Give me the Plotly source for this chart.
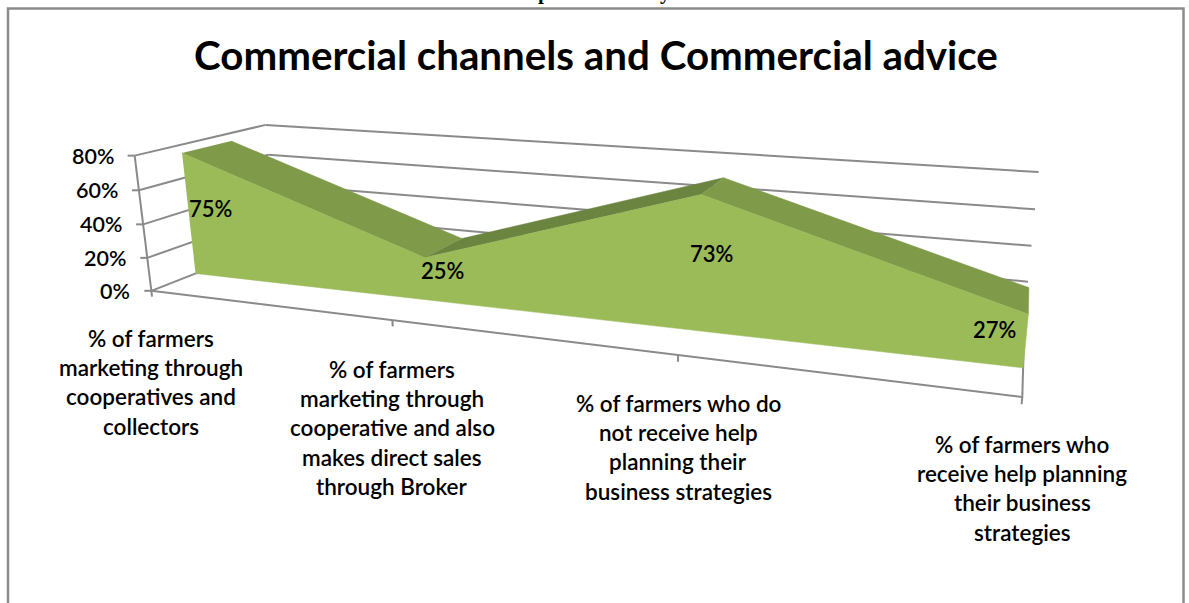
import numpy as np
import plotly.graph_objects as go

# Chart content
title_text = "Commercial channels and Commercial advice"
categories = [
    ["% of farmers", "marketing through", "cooperatives and", "collectors"],
    ["% of farmers", "marketing through", "cooperative and also", "makes direct sales", "through Broker"],
    ["% of farmers who do", "not receive help", "planning their", "business strategies"],
    ["% of farmers who", "receive help planning", "their business", "strategies"],
]
values = [75, 25, 73, 27]
value_ticks = [0, 20, 40, 60, 80]

# Camera for the oblique 3-D view: (category, depth, value) -> canvas pixel
CAMERA = np.array([
    [210.31351464835774, 170.26709185750195, -0.26407381665906404, 151.33778417951913],
    [4.328042134755781, -9.185382359520482, -1.7537967448062575, 290.8124138644101],
    [-0.07826303614262967, 0.16449774817063226, -0.00041147845035253473, 1.0],
])
AREA_FRONT, AREA_BACK = 0.32, 0.70
WIDTH, HEIGHT = 1189, 603

FONT = "Lato"
INK = "#000000"
GRID = "#8a8a8a"
GRID_WIDTH = 2.0
FACE = "#9bbb59"
SLOPE_DOWN = "#7f9a48"
SLOPE_UP = "#6b8440"


def project(u, d, v):
    h = CAMERA @ np.array([u, d, v, 1.0])
    return h[0] / h[2], h[1] / h[2]


def path(points):
    xy = [project(*p) for p in points]
    return [a for a, _ in xy], [b for _, b in xy]


fig = go.Figure()


def line(points):
    x, y = path(points)
    fig.add_trace(go.Scatter(x=x, y=y, mode="lines", hoverinfo="skip",
                             line=dict(color=GRID, width=GRID_WIDTH)))


def polygon(points, colour):
    x, y = path(points)
    fig.add_trace(go.Scatter(x=x, y=y, mode="lines", fill="toself", fillcolor=colour,
                             hoverinfo="skip", line=dict(color=colour, width=0.5)))


# Walls and floor
top_u = len(values) - 1
for v in value_ticks:
    line([(0, 1, v), (top_u, 1, v)])
    line([(0, 0, v), (0, 1, v)])
line([(0, 0, 0), (0, 0, value_ticks[-1])])
line([(0, 0, 0), (top_u, 0, 0)])
line([(top_u, 0, 0), (top_u, 1, 0)])

# Axis tick marks
for u in range(len(values)):
    line([(u, 0, 0), (u, 0, -3.5)])
for v in value_ticks:
    px, py = project(0, 0, v)
    fig.add_trace(go.Scatter(x=[px - 7, px], y=[py, py], mode="lines", hoverinfo="skip",
                             line=dict(color=GRID, width=GRID_WIDTH)))

# Top surfaces of the area, then its front face
for i in range(top_u):
    colour = SLOPE_DOWN if values[i + 1] < values[i] else SLOPE_UP
    polygon([(i, AREA_FRONT, values[i]), (i + 1, AREA_FRONT, values[i + 1]),
             (i + 1, AREA_BACK, values[i + 1]), (i, AREA_BACK, values[i])], colour)
polygon([(i, AREA_FRONT, values[i]) for i in range(len(values))]
        + [(top_u, AREA_FRONT, 0), (0, AREA_FRONT, 0)], FACE)

notes = []


def text(x, y, s, size=22.5, anchor="center", family=FONT, weight=600):
    notes.append(dict(x=x, y=y, xref="x", yref="y", text=s, showarrow=False,
                      xanchor=anchor, yanchor="middle",
                      font=dict(family=family, size=size, color=INK, weight=weight)))


text(596, 54, title_text, size=40.3, weight=700)

# Value axis labels
for v in value_ticks:
    px, py = project(0, 0, v)
    text(px - 19, py, f"{v}%", size=21.5, anchor="right")

# Category labels, one text per line for the wide leading
label_tops = [338, 369, 403, 444]
for u, (lines, top) in enumerate(zip(categories, label_tops)):
    px, _ = project(u, 0, 0)
    for n, s in enumerate(lines):
        text(px, top + n * 29.4, s)

# Data labels
label_spots = [(210, 208), (442, 270), (711, 253), (994, 329)]
for val, (lx, ly) in zip(values, label_spots):
    text(lx, ly, f"{val}%", size=22)

# Running header of the page above, cut off by the page edge
for hx, letter in [(544, "p"), (665, "y")]:
    notes.append(dict(x=hx, y=1 + 8 / HEIGHT, xref="x", yref="paper", text=letter,
                      showarrow=False, xanchor="center", yanchor="middle",
                      font=dict(family="Liberation Serif", size=21, color=INK, weight=700)))

frame = dict(type="path", xref="x", yref="y",
             path="M 8 603 L 8 8.5 L 1183.5 8.5 L 1183.5 603",
             line=dict(color="#8c8c8c", width=2.5))

fig.update_layout(
    width=WIDTH, height=HEIGHT, margin=dict(l=0, r=0, t=0, b=0),
    paper_bgcolor="white", plot_bgcolor="white", showlegend=False,
    xaxis=dict(range=[0, WIDTH], visible=False, fixedrange=True),
    yaxis=dict(range=[HEIGHT, 0], visible=False, fixedrange=True),
    annotations=notes, shapes=[frame],
)
fig.write_html("out.html", config=dict(displayModeBar=False))
